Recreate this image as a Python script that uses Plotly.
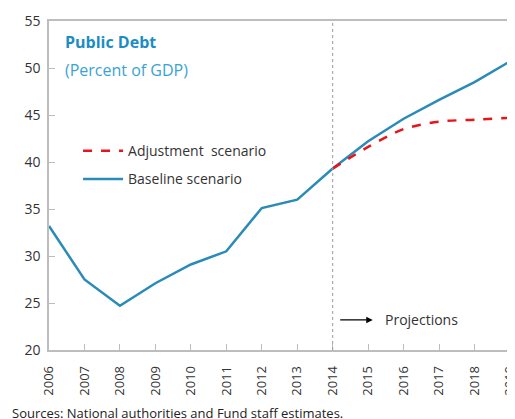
import plotly.graph_objects as go

years = list(range(2006, 2020))
year_labels = [str(y) for y in years]
baseline = [33.2, 27.5, 24.7, 27.1, 29.1, 30.5, 35.1, 36.0, 39.3, 42.2, 44.6, 46.6, 48.5, 50.7]
proj_years = list(range(2014, 2020))
adjustment = [39.3, 41.6, 43.5, 44.3, 44.5, 44.7]
projection_start = 2014
y_ticks = [20, 25, 30, 35, 40, 45, 50, 55]

FONT = "Open Sans"
TXT = "#333333"
BLUE = "#2a8ab8"
RED = "#e8141a"
FRAME = "#bdbdbd"

fig = go.Figure()
fig.add_trace(go.Scatter(
    x=years, y=baseline, mode="lines", name="Baseline scenario",
    line=dict(color=BLUE, width=2.5), legendgroup="b", legendrank=2))
fig.add_trace(go.Scatter(
    x=proj_years, y=adjustment, mode="lines", name="Adjustment  scenario",
    line=dict(color=RED, width=2.5, dash="dash", shape="spline", smoothing=0.8),
    legendgroup="a", legendrank=1))

fig.add_shape(type="line", x0=projection_start, x1=projection_start, xref="x",
              y0=0, y1=1, yref="paper", line=dict(color="#9a9a9a", width=1, dash="dot"))

fig.add_annotation(x=projection_start + 1.13, y=23.2, ax=projection_start + 0.17, ay=23.2,
                   xref="x", yref="y", axref="x", ayref="y", text="", showarrow=True,
                   arrowhead=2, arrowsize=1, arrowwidth=1.3, arrowcolor="black")
fig.add_annotation(x=projection_start + 1.43, y=23.2, xref="x", yref="y",
                   text="Projections", showarrow=False, xanchor="left",
                   font=dict(family=FONT, size=14, color=TXT))

fig.add_annotation(x=0.030, y=0.936, xref="paper", yref="paper", text="<b>Public Debt</b>",
                   showarrow=False, xanchor="left", yanchor="middle",
                   font=dict(family=FONT, size=16, color="#1b8dc4"))
fig.add_annotation(x=0.030, y=0.851, xref="paper", yref="paper", text="(Percent of GDP)",
                   showarrow=False, xanchor="left", yanchor="middle",
                   font=dict(family=FONT, size=16, color="#3aa3d6"))
fig.add_annotation(x=-0.085, y=-0.192, xref="paper", yref="paper",
                   text="Sources: National authorities and Fund staff estimates.",
                   showarrow=False, xanchor="left", yanchor="middle",
                   font=dict(family=FONT, size=13, color="#222222"))

# page body has an 8px margin, so the figure is 8px smaller and margins shifted accordingly
fig.update_layout(
    width=507, height=411,
    margin=dict(l=41, r=5, t=13, b=69, autoexpand=False),
    paper_bgcolor="white", plot_bgcolor="white",
    font=dict(family=FONT, size=14, color=TXT),
    showlegend=True,
    legend=dict(x=0.063, y=0.653, xanchor="left", yanchor="top", itemwidth=40,
                bgcolor="rgba(0,0,0,0)", font=dict(family=FONT, size=14, color=TXT),
                traceorder="grouped", tracegroupgap=7),
)
fig.update_xaxes(range=[2006, 2019], tickvals=years, ticktext=year_labels, tickangle=-90,
                 showgrid=False, zeroline=False, showline=True, linecolor=FRAME, linewidth=1.5,
                 mirror=True, ticks="inside", ticklen=6, tickcolor=FRAME, ticklabelstandoff=9,
                 ticklabeloverflow="allow",
                 tickfont=dict(family=FONT, size=13, color=TXT))
fig.update_yaxes(range=[20, 55], tickvals=y_ticks, showgrid=False, zeroline=False,
                 showline=True, linecolor=FRAME, linewidth=1.5, mirror=True,
                 ticks="inside", ticklen=6, tickcolor=FRAME, ticklabelstandoff=4,
                 tickfont=dict(family=FONT, size=14, color=TXT))

fig.write_html("out.html")
